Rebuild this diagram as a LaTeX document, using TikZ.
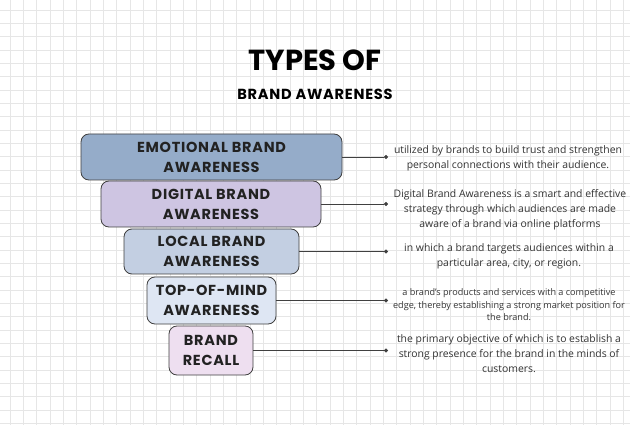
\documentclass[tikz,border=0pt]{standalone}
\usepackage{fontspec}
\setmainfont{Open Sans}
\newfontfamily\boxfont[LetterSpace=5]{Poppins}
\newfontfamily\titlefont{Poppins}
\usepackage{tikz}
\usetikzlibrary{positioning,calc,arrows.meta}

\definecolor{gridcol}{HTML}{E6E6E6}
\definecolor{emocol}{HTML}{95ACC9}
\definecolor{digcol}{HTML}{CEC5E2}
\definecolor{loccol}{HTML}{C3CFE2}
\definecolor{topcol}{HTML}{DEE6F3}
\definecolor{reccol}{HTML}{EEDFF0}
\definecolor{inkcol}{HTML}{222222}

\begin{document}
\begin{tikzpicture}[x=1pt,y=-1pt]
        \tikzset{
            tier/.style={draw=black!75, line width=0.8pt, rounded corners=8pt, align=center, inner sep=0pt, outer sep=0pt,
                font=\boxfont\bfseries\fontsize{14.5}{20}\selectfont, text=inkcol},
            descr/.style={align=center, font=\fontsize{10.4}{15}\selectfont, text=black!80},
            link/.style={black!75, line width=0.8pt, -{Circle[length=4pt]}}
        }
        \useasboundingbox (0,0) rectangle (630,425);
        \fill[white] (0,0) rectangle (630,425);
        % grid paper
        \foreach \k in {0,...,46}
            \draw[gridcol, line width=0.6pt] (10+13.33*\k,0) -- (10+13.33*\k,425);
        \foreach \k in {0,...,31}
            \draw[gridcol, line width=0.6pt] (0,10+13.33*\k) -- (630,10+13.33*\k);
        % heading
        \node[font=\titlefont\bfseries\fontsize{29}{32}\selectfont] (title) at (315,60) {TYPES OF};
        \node[font=\boxfont\bfseries\fontsize{14.6}{16}\selectfont] (subtitle) at (315,94) {BRAND AWARENESS};
        % funnel
        \node[tier, fill=emocol, minimum width=261pt, minimum height=46pt] (emo) at (211.5,157) {EMOTIONAL BRAND\\AWARENESS};
        \node[tier, fill=digcol, minimum width=220pt, minimum height=46pt] (dig) at (211,204) {DIGITAL BRAND\\AWARENESS};
        \node[tier, fill=loccol, minimum width=175pt, minimum height=45pt] (loc) at (211.5,251.5) {LOCAL BRAND\\AWARENESS};
        \node[tier, fill=topcol, minimum width=129pt, minimum height=47pt] (top) at (211.5,300.5) {TOP-OF-MIND\\AWARENESS};
        \node[tier, fill=reccol, minimum width=84pt, minimum height=49pt] (rec) at (211,350.5) {BRAND\\RECALL};
        % end points
        \coordinate (d1) at (388,157);
        \coordinate (d2) at (388,204);
        \coordinate (d3) at (388,251.5);
        \coordinate (d4) at (388,300.5);
        \coordinate (d5) at (388,350.5);
        \draw[link] (emo.east) -- (d1);
        \draw[link] (dig.east) -- (d2);
        \draw[link] (loc.east) -- (d3);
        \draw[link] (top.east) -- (d4);
        \draw[link] (rec.east) -- (d5);
        % descriptions
        \node[descr] (t1) at (508,158) {utilized by brands to build trust and strengthen\\personal connections with their audience.};
        \node[descr] (t2) at (510,210) {Digital Brand Awareness is a smart and effective\\strategy through which audiences are made\\aware of a brand via online platforms};
        \node[descr] (t3) at (509,256) {in which a brand targets audiences within a\\particular area, city, or region.};
        \node[descr, font=\fontsize{9.1}{12.5}\selectfont] (t4) at (509,305) {a brand's products and services with a competitive\\edge, thereby establishing a strong market position for\\the brand.};
        \node[descr] (t5) at (509,354) {the primary objective of which is to establish a\\strong presence for the brand in the minds of\\customers.};
    \end{tikzpicture}
\end{document}
